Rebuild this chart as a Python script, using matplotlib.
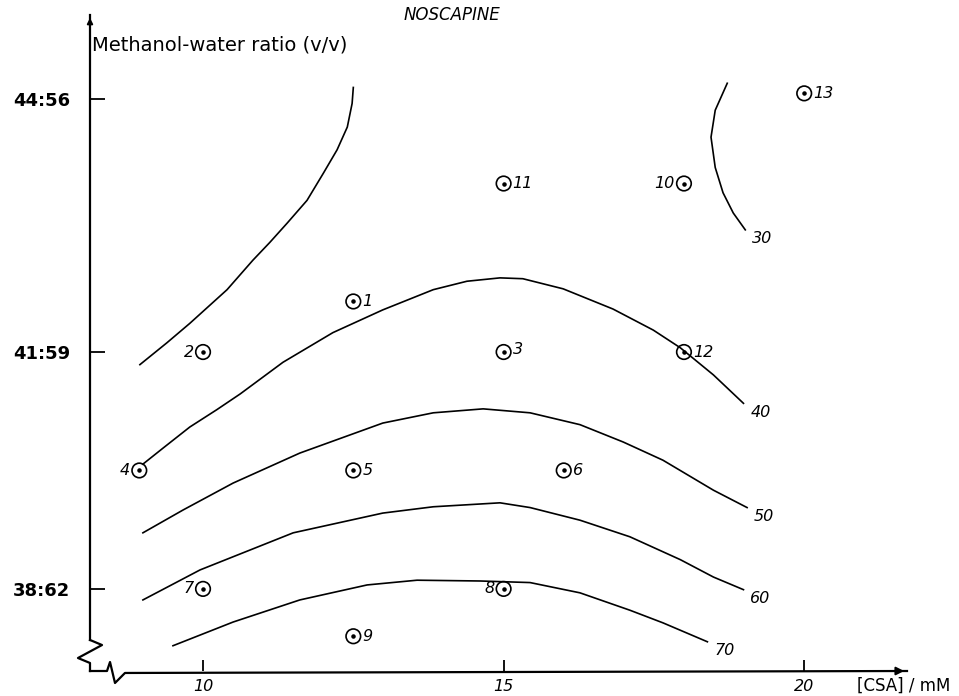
import matplotlib
matplotlib.use("Agg")
import matplotlib.pyplot as plt
import numpy as np

# puntos experimentales: [CSA] (mM) y % metanol
punto_id = [1, 2, 3, 4, 5, 6, 7, 8, 9, 10, 11, 12, 13]
punto_csa = [12.5, 10.0, 15.0, 8.94, 12.5, 16.0, 10.0, 15.0, 12.5, 18.0, 15.0, 18.0, 20.0]
punto_metanol = [41.6, 41.0, 41.0, 39.5, 39.5, 39.5, 38.0, 38.0, 37.4, 43.0, 43.0, 41.0, 44.07]

# curvas de nivel
curva_sin_rotulo_x = [8.95, 9.40, 9.78, 10.40, 10.83, 11.11, 11.40, 11.73, 12.00, 12.23, 12.40, 12.48, 12.50]
curva_sin_rotulo_y = [40.84, 41.11, 41.34, 41.74, 42.09, 42.30, 42.53, 42.80, 43.12, 43.40, 43.67, 43.95, 44.14]

curva_30_x = [18.72, 18.52, 18.45, 18.52, 18.65, 18.82, 19.02]
curva_30_y = [44.19, 43.87, 43.55, 43.19, 42.89, 42.65, 42.45]

curva_40_x = [9.00, 9.33, 9.78, 10.23, 10.62, 11.33, 12.16, 12.99, 13.83, 14.39, 14.94, 15.32,
              15.99, 16.82, 17.49, 17.94, 18.49, 18.99]
curva_40_y = [39.58, 39.78, 40.05, 40.27, 40.47, 40.87, 41.23, 41.50, 41.74, 41.84, 41.88, 41.87,
              41.75, 41.51, 41.26, 41.05, 40.71, 40.35]

curva_50_x = [9.00, 9.67, 10.50, 11.61, 12.99, 13.83, 14.66, 15.44, 16.27, 16.99, 17.65, 18.49, 19.05]
curva_50_y = [38.71, 39.00, 39.34, 39.72, 40.10, 40.23, 40.28, 40.23, 40.08, 39.86, 39.63, 39.25, 39.03]

curva_60_x = [9.00, 9.95, 11.50, 12.99, 13.83, 14.94, 15.44, 16.27, 17.10, 17.94, 18.49, 18.99]
curva_60_y = [37.86, 38.24, 38.71, 38.96, 39.04, 39.09, 39.03, 38.87, 38.66, 38.37, 38.15, 37.99]

curva_70_x = [9.50, 10.50, 11.61, 12.73, 13.56, 14.61, 15.44, 16.27, 17.10, 17.65, 18.39]
curva_70_y = [37.28, 37.58, 37.86, 38.05, 38.11, 38.10, 38.08, 37.95, 37.73, 37.57, 37.33]

curvas = [
    (curva_sin_rotulo_x, curva_sin_rotulo_y, None),
    (curva_30_x, curva_30_y, "30"),
    (curva_40_x, curva_40_y, "40"),
    (curva_50_x, curva_50_y, "50"),
    (curva_60_x, curva_60_y, "60"),
    (curva_70_x, curva_70_y, "70"),
]

x_ticks = [10, 15, 20]
x_tick_labels = ["10", "15", "20"]
y_ticks = [44, 41, 38]
y_tick_labels = ["44:56", "41:59", "38:62"]

# rotulos a la izquierda del punto
izquierda = {2, 4, 7, 8, 10}


# escala del eje y: el original no es lineal entre marcas
def _fwd(m):
    m = np.asarray(m, dtype=float)
    return np.where(m < 41, (m - 41) * 79.0, (m - 41) * 84.3)


def _inv(v):
    v = np.asarray(v, dtype=float)
    return np.where(v < 0, v / 79.0 + 41, v / 84.3 + 41)


fig = plt.figure(figsize=(9.59, 6.96), dpi=100)
ax = fig.add_axes([90 / 959, 1 - 671 / 696, 817 / 959, 656 / 696])
ax.set_yscale("function", functions=(_fwd, _inv))
ax.set_xlim(8.12, 21.71)
ax.set_ylim(36.96, 45.0)

for s in ax.spines.values():
    s.set_visible(False)

# curvas
for cx, cy, rotulo in curvas:
    ax.plot(cx, cy, color="black", lw=1.2, solid_joinstyle="round")
    if rotulo:
        ax.annotate(rotulo, (cx[-1], cy[-1]), xytext=(17, -9), textcoords="offset pixels",
                    ha="center", va="center", fontsize=11.5, style="italic")

# puntos
ax.scatter(punto_csa, punto_metanol, s=110, facecolors="none", edgecolors="black", lw=1.2, zorder=3)
ax.scatter(punto_csa, punto_metanol, s=5, color="black", zorder=4)
for n, x, y in zip(punto_id, punto_csa, punto_metanol):
    if n in izquierda:
        dx, ha = -9, "right"
    else:
        dx, ha = 9, "left"
    dy = 3 if n == 3 else 0
    ax.annotate(str(n), (x, y), xytext=(dx, dy), textcoords="offset pixels",
                ha=ha, va="center", fontsize=11.5, style="italic")

# ejes dibujados a mano (con corte)
kw = dict(color="black", lw=1.6, transform=ax.transAxes, clip_on=False)
ax.plot([0, 0], [1, 0.0473], **kw)
ax.plot([0, 0.0147, -0.0147, 0, 0], [0.0473, 0.0396, 0.0198, 0.0122, 0], **kw)
ax.plot([0, 0.0208, 0.0245, 0.0306, 0.0428, 1], [0, 0, 0.0137, -0.0183, -0.0030, 0.0], **kw)
ax.annotate("", xy=(1.0, 0), xytext=(0.97, 0), xycoords="axes fraction",
            arrowprops=dict(arrowstyle="-|>", color="black", lw=1.4, mutation_scale=12))
ax.annotate("", xy=(0, 1.0), xytext=(0, 0.97), xycoords="axes fraction",
            arrowprops=dict(arrowstyle="-|>", color="black", lw=1.4, mutation_scale=8))

ax.set_xticks(x_ticks)
ax.set_xticklabels(x_tick_labels, fontsize=11.5, style="italic")
ax.set_yticks(y_ticks)
ax.set_yticklabels(y_tick_labels, fontsize=13, fontweight="bold")
ax.minorticks_off()
ax.tick_params(axis="x", direction="in", length=8, width=1.3, pad=6)
ax.tick_params(axis="y", direction="in", length=11, width=1.3, pad=14)

ax.text(0.003, 0.954, "Methanol-water ratio (v/v)", transform=ax.transAxes, fontsize=14,
        ha="left", va="center")
ax.text(0.443, 1.0, "NOSCAPINE", transform=ax.transAxes, fontsize=12, style="italic",
        ha="center", va="center")
ax.text(1.0526, -0.023, "[CSA] / mM", transform=ax.transAxes, fontsize=12,
        ha="right", va="center")

fig.savefig("out.png", dpi=100)
